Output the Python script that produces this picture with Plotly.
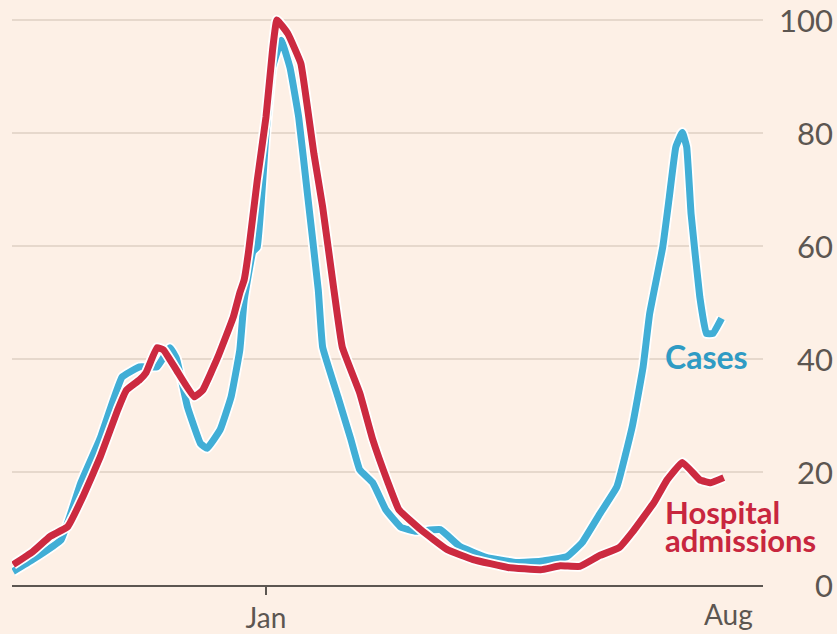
import pandas as pd
import plotly.graph_objects as go

# Days relative to 1 Jan 2021, values indexed to peak = 100
cases_days = [-116, -107, -94, -85, -76, -66, -58, -50, -44, -41, -36, -30, -27, -21, -16, -12, -10, -6, -4,
              0, 3, 7, 11, 15, 19, 24, 26, 33, 39, 43, 49, 55, 62, 69, 80, 89, 101, 115, 126, 138, 145,
              153, 161, 168, 173, 176, 182, 185, 188, 191, 193, 195, 199, 202, 205, 209]
cases_vals = [2.4, 4.5, 8.0, 18.0, 26.0, 36.8, 38.6, 38.6, 42.0, 40.0, 31.5, 25.0, 24.2, 27.5, 33.3, 41.6, 50.4, 59.0, 59.8,
              79.8, 91.6, 96.4, 91.6, 82.8, 69.3, 52.2, 42.1, 33.3, 25.7, 20.4, 18.1, 13.3, 10.2, 9.5, 9.8, 6.8, 4.9, 4.0, 4.2, 5.0, 7.5,
              12.5, 17.4, 28.0, 38.6, 48.0, 59.8, 68.6, 77.5, 80.1, 77.5, 65.7, 51.0, 44.5, 44.5, 47.2]

hosp_days = [-116, -107, -99, -91, -84, -76, -68, -64, -58, -55, -50, -47, -41, -33, -29, -22, -15, -12, -10, -8, -4,
             0, 3, 5, 10, 16, 19, 22, 26, 31, 35, 43, 49, 56, 61, 71, 83, 95, 111, 126, 135, 144,
             153, 162, 168, 178, 184, 191, 199, 204, 210]
hosp_vals = [3.6, 5.9, 8.6, 10.3, 15.6, 22.7, 31.0, 34.5, 36.3, 37.6, 42.0, 41.6, 38.0, 33.3, 34.5, 40.4, 47.4, 51.7, 54.0, 59.0, 71.6,
             82.8, 94.6, 100.0, 97.6, 92.3, 84.6, 76.3, 66.9, 52.7, 42.1, 34.0, 25.7, 18.1, 13.3, 9.8, 6.3, 4.5, 3.1, 2.7, 3.4, 3.3,
             5.2, 6.6, 9.3, 14.6, 18.6, 21.7, 18.6, 18.1, 19.0]

x_tick_dates = ["2021-01-01", "2021-08-01"]
x_tick_labels = ["Jan", "Aug"]
y_ticks = [0, 20, 40, 60, 80, 100]

origin = pd.Timestamp("2021-01-01")
cases_x = origin + pd.to_timedelta(cases_days, unit="D")
hosp_x = origin + pd.to_timedelta(hosp_days, unit="D")

BG = "#FDF0E6"
BLUE = "#41AED6"
RED = "#CC2A40"
GREY = "#5C5651"
GRID = "#E6D8CC"
FONT = "Lato"

fig = go.Figure()
for xs, ys, col in [(cases_x, cases_vals, BLUE), (hosp_x, hosp_vals, RED)]:
    fig.add_trace(go.Scatter(x=xs, y=ys, mode="lines", line=dict(color="white", width=10.5, shape="spline", smoothing=0.3),
                             hoverinfo="skip", showlegend=False))
    fig.add_trace(go.Scatter(x=xs, y=ys, mode="lines", line=dict(color=col, width=7, shape="spline", smoothing=0.3),
                             showlegend=False))

x_start = origin + pd.Timedelta(days=-116.5)
x_end = origin + pd.Timedelta(days=228.0)

fig.update_layout(
    width=837, height=634,
    margin=dict(l=12, r=0, t=3, b=48.5, autoexpand=False),
    paper_bgcolor=BG, plot_bgcolor=BG,
    font=dict(family=FONT, color=GREY, size=30),
    hovermode=False,
    xaxis=dict(
        type="date", range=[x_start, x_end], domain=[0, 751 / 825], automargin=False,
        tickmode="array", tickvals=[x_tick_dates[0]], ticktext=[x_tick_labels[0]],
        ticks="outside", ticklen=8, tickwidth=2, tickcolor=GREY,
        showgrid=False, zeroline=False,
        showline=True, linecolor=GREY, linewidth=2,
        tickfont=dict(family=FONT, size=28, color=GREY),
        ticklabelstandoff=-1,
    ),
    yaxis=dict(
        range=[0, 103], tickmode="array", tickvals=y_ticks, showticklabels=False, automargin=False,
        showgrid=True, gridcolor=GRID, gridwidth=2, zeroline=False, ticks="",
    ),
)

# Aug label (no tick mark in the original)
fig.add_annotation(x=x_tick_dates[1], y=0, xref="x", yref="paper", text=x_tick_labels[1],
                   xanchor="center", yanchor="top", yshift=-10, showarrow=False,
                   font=dict(family=FONT, size=28, color=GREY))

# right-aligned y tick labels
for v in y_ticks:
    fig.add_annotation(x=823 / 825, y=v, xref="paper", yref="y", text=str(v),
                       xanchor="right", yanchor="middle", showarrow=False,
                       font=dict(family=FONT, size=31, color=GREY))

fig.add_annotation(x=origin + pd.Timedelta(days=182), y=40.4, xref="x", yref="y", text="Cases",
                   xanchor="left", yanchor="middle", showarrow=False,
                   font=dict(family=FONT, size=32, color="#2F9BC4", weight="bold"))
fig.add_annotation(x=origin + pd.Timedelta(days=182), y=13.0, xref="x", yref="y", text="Hospital",
                   xanchor="left", yanchor="middle", showarrow=False,
                   font=dict(family=FONT, size=31, color="#C8263E", weight="bold"))
fig.add_annotation(x=origin + pd.Timedelta(days=182), y=8.0, xref="x", yref="y", text="admissions",
                   xanchor="left", yanchor="middle", showarrow=False,
                   font=dict(family=FONT, size=31, color="#C8263E", weight="bold"))

fig.write_html("out.html", config={"displayModeBar": False},
               post_script="document.body.style.margin='0px';document.body.style.background='" + BG + "';")
